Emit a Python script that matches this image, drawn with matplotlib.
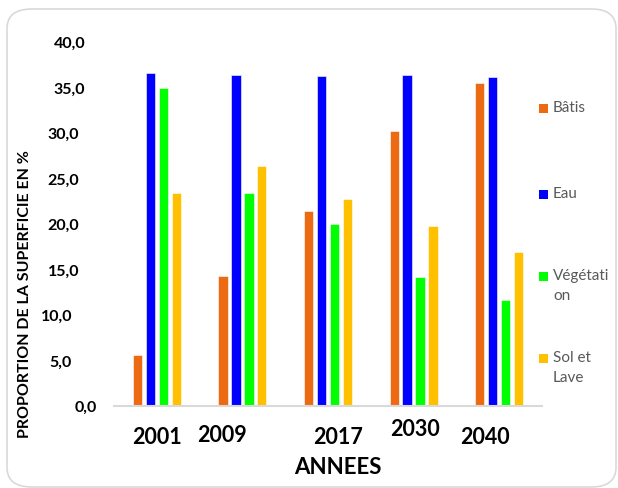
import matplotlib.pyplot as plt
import matplotlib.transforms as mtransforms
from matplotlib.patches import FancyBboxPatch, Rectangle
import numpy as np

# données
annees = ["2001", "2009", "2017", "2030", "2040"]
batis = [5.6, 14.3, 21.4, 30.2, 35.5]
eau = [36.6, 36.4, 36.3, 36.4, 36.2]
vegetation = [34.9, 23.4, 20.0, 14.2, 11.7]
sol_lave = [23.4, 26.4, 22.8, 19.8, 16.9]

noms_series = ["Bâtis", "Eau", "Végétati\non", "Sol et\nLave"]
couleurs = ["#EC6A12", "#0000FF", "#00FF00", "#FFC000"]
graduations = [0, 5, 10, 15, 20, 25, 30, 35, 40]

W, H = 618, 488
fig = plt.figure(figsize=(W / 100, H / 100), dpi=100)
fig.patch.set_facecolor("white")


def px(x, y):
    # pixels (origine en haut a gauche) -> fraction de figure
    return x / W, 1 - y / H


# cadre arrondi (derriere les axes)
cadre = FancyBboxPatch(
    (7 / W, 1 - 487 / H), 609 / W, 478 / H,
    boxstyle="round,pad=0,rounding_size=0.04",
    transform=fig.transFigure, facecolor="white",
    edgecolor="#D9D9D9", linewidth=1.2, zorder=-1
)
fig.patches.append(cadre)

ax = fig.add_axes([114 / W, 1 - 406 / H, 428 / W, 364 / H])
ax.set_facecolor("none")

x = np.arange(len(annees))
largeur = 0.109
pas = 0.151
series = [batis, eau, vegetation, sol_lave]
for k, (valeurs, couleur) in enumerate(zip(series, couleurs)):
    ax.bar(x + (k - 1.5) * pas, valeurs, largeur, color=couleur,
           edgecolor="white", linewidth=0.4, zorder=2)

ax.set_xlim(-0.5, len(annees) - 0.5)
ax.set_ylim(0, 40)

for cote in ["top", "right", "left"]:
    ax.spines[cote].set_visible(False)
ax.spines["bottom"].set_color("#D9D9D9")
ax.spines["bottom"].set_linewidth(1.5)
ax.set_xticks([])
ax.set_yticks([])

# étiquettes de l'axe Y (placées comme dans l'original)
bords_droits = [97, 72, 72, 79, 79, 79, 79, 85, 85]
trans_y = mtransforms.offset_copy(
    mtransforms.blended_transform_factory(fig.transFigure, ax.transData),
    fig=fig, x=0, y=-2, units="dots")
for g, xd in zip(graduations, bords_droits):
    ax.text(xd / W, g, f"{g:.1f}".replace(".", ","), transform=trans_y,
            ha="right", va="center", fontsize=11.5, fontweight="bold",
            family="Lato", color="black")

# étiquettes de l'axe X
decalages_x = [0, -20, 10, 1, -14]
decalages_y = [-31, -30, -31, -23, -31]
trans_x = mtransforms.blended_transform_factory(ax.transData, ax.transAxes)
for i, (a, dx, dy) in enumerate(zip(annees, decalages_x, decalages_y)):
    t = mtransforms.offset_copy(trans_x, fig=fig, x=dx, y=dy, units="dots")
    ax.text(i, 0, a, transform=t, ha="center", va="center",
            fontsize=15.5, fontweight="bold", family="Lato", color="black")

fig.text(*px(338, 467), "ANNEES", ha="center", va="center",
         fontsize=16, fontweight="bold", family="Lato", color="black")
fig.text(*px(25, 294), "PROPORTION DE LA SUPERFICIE EN %", rotation=90,
         ha="center", va="center", fontsize=11.5, fontweight="bold",
         family="Lato", color="black")

# légende
legende_y = [106, 192, 274, 356]
for nom, couleur, ly in zip(noms_series, couleurs, legende_y):
    mx, my = px(539, ly + 7)
    fig.patches.append(Rectangle((mx, my), 9 / W, 9 / H,
                                 transform=fig.transFigure,
                                 facecolor=couleur, edgecolor="none"))
    fig.text(*px(553, ly - 5), nom, ha="left", va="top", fontsize=11,
             family="Lato", color="#595959", linespacing=1.55)

fig.savefig("out.png", dpi=100)
